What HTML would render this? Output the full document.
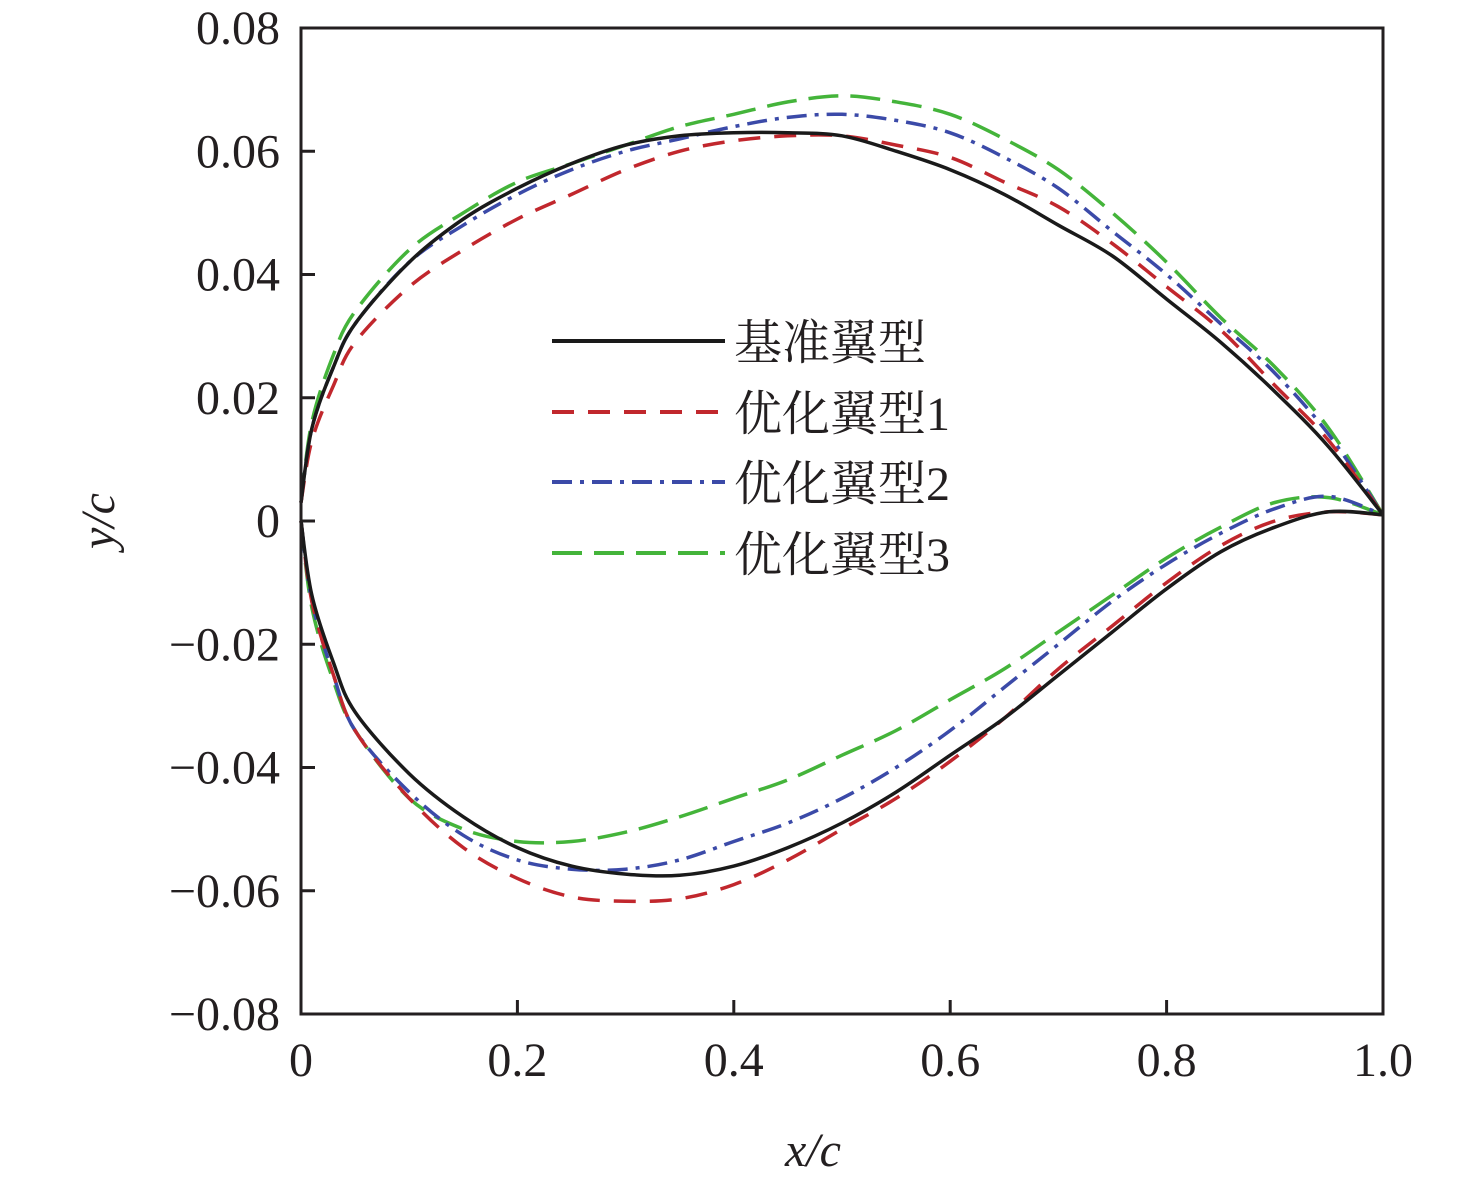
<!DOCTYPE html>
<html><head><meta charset="utf-8">
<style>
html,body{margin:0;padding:0;background:#fff;}
svg text{font-family:"Liberation Serif","Times New Roman","Noto Serif CJK SC",serif;fill:#231f20;}
</style></head>
<body>
<svg id="chart" width="1476" height="1182" viewBox="0 0 1476 1182" xmlns="http://www.w3.org/2000/svg">
<g id="plot"></g>
</svg>
<script>
const xs=[0,0.01,0.03,0.05,0.1,0.15,0.2,0.25,0.3,0.35,0.4,0.45,0.5,0.55,0.6,0.65,0.7,0.75,0.8,0.85,0.9,0.95,1.0];
const baseUpper=[0.003,0.015,0.025,0.032,0.042,0.049,0.054,0.058,0.061,0.0625,0.063,0.063,0.0625,0.06,0.057,0.053,0.048,0.043,0.036,0.029,0.021,0.012,0.001];
const baseLower=[0,-0.012,-0.023,-0.031,-0.041,-0.048,-0.053,-0.056,-0.0573,-0.0575,-0.056,-0.053,-0.049,-0.044,-0.038,-0.032,-0.025,-0.018,-0.011,-0.005,-0.001,0.0015,0.001];
const opt1Upper=[0.003,0.013,0.022,0.029,0.038,0.044,0.049,0.053,0.057,0.06,0.0617,0.0625,0.0625,0.061,0.059,0.055,0.051,0.045,0.038,0.031,0.022,0.013,0.001];
const opt1Lower=[0,-0.013,-0.025,-0.034,-0.045,-0.053,-0.058,-0.061,-0.0617,-0.0613,-0.059,-0.055,-0.05,-0.045,-0.039,-0.032,-0.024,-0.017,-0.01,-0.004,0,0.0015,0.001];
const opt2Upper=[0.003,0.015,0.025,0.032,0.042,0.048,0.053,0.057,0.06,0.062,0.064,0.0655,0.066,0.065,0.063,0.059,0.054,0.047,0.04,0.032,0.024,0.014,0.001];
const opt2Lower=[0,-0.013,-0.025,-0.034,-0.044,-0.051,-0.055,-0.0565,-0.0565,-0.055,-0.052,-0.049,-0.045,-0.04,-0.034,-0.027,-0.02,-0.013,-0.007,-0.002,0.002,0.004,0.001];
const opt3Upper=[0.003,0.016,0.027,0.034,0.044,0.05,0.055,0.058,0.061,0.064,0.066,0.068,0.069,0.068,0.066,0.062,0.057,0.05,0.042,0.033,0.025,0.015,0.001];
const opt3Lower=[0,-0.014,-0.026,-0.034,-0.045,-0.05,-0.052,-0.052,-0.0505,-0.048,-0.045,-0.042,-0.038,-0.034,-0.029,-0.024,-0.018,-0.012,-0.006,-0.001,0.003,0.0038,0.001];
const xTicks=[0,0.2,0.4,0.6,0.8,1.0];
const xTickLabels=["0","0.2","0.4","0.6","0.8","1.0"];
const yTicks=[0.08,0.06,0.04,0.02,0,-0.02,-0.04,-0.06,-0.08];
const yTickLabels=["0.08","0.06","0.04","0.02","0","\u22120.02","\u22120.04","\u22120.06","\u22120.08"];
const seriesNames=["基准翼型","优化翼型1","优化翼型2","优化翼型3"];

const X0=301,X1=1383,Y0=1014,Y1=28;
const sx=v=>X0+(v-0)/(1-0)*(X1-X0);
const sy=v=>Y0-(v+0.08)/0.16*(Y0-Y1);
const NS="http://www.w3.org/2000/svg";
const FONT='"Liberation Serif","Times New Roman","Noto Serif CJK SC",serif';
const g=document.getElementById('plot');
function mk(t,a){const e=document.createElementNS(NS,t);for(const k in a)e.setAttribute(k,a[k]);g.appendChild(e);return e;}
function smooth(pts){
  let d="M"+pts[0][0].toFixed(1)+","+pts[0][1].toFixed(1);
  for(let i=0;i<pts.length-1;i++){
    const p0=pts[Math.max(0,i-1)],p1=pts[i],p2=pts[i+1],p3=pts[Math.min(pts.length-1,i+2)];
    const c1=[p1[0]+(p2[0]-p0[0])/6,p1[1]+(p2[1]-p0[1])/6];
    const c2=[p2[0]-(p3[0]-p1[0])/6,p2[1]-(p3[1]-p1[1])/6];
    d+="C"+c1[0].toFixed(1)+","+c1[1].toFixed(1)+" "+c2[0].toFixed(1)+","+c2[1].toFixed(1)+" "+p2[0].toFixed(1)+","+p2[1].toFixed(1);
  }
  return d;
}

const styles=[
 {c:"#1a1a1a",d:"",w:3.5},
 {c:"#c1272d",d:"22 14",w:3.5},
 {c:"#3b4aa8",d:"20 8 4 8",w:3.5},
 {c:"#44b43a",d:"30 12",w:3.5}
];
const data=[[baseUpper,baseLower],[opt1Upper,opt1Lower],[opt2Upper,opt2Lower],[opt3Upper,opt3Lower]];
const keys=["baseline","optimized-1","optimized-2","optimized-3"];
[3,2,1,0].forEach(i=>{
  const [up,lo]=data[i];
  ["upper","lower"].forEach((side,j)=>{
    const ys=j?lo:up;
    const pts=xs.map((x,k)=>[sx(x),sy(ys[k])]);
    const p=mk("path",{d:smooth(pts),fill:"none",stroke:styles[i].c,"stroke-width":styles[i].w,"stroke-dasharray":styles[i].d,"stroke-linejoin":"round"});
    
    
  });
});

const fr=mk("rect",{x:X0,y:Y1,width:X1-X0,height:Y0-Y1,fill:"none",stroke:"#231f20","stroke-width":3});



xTicks.forEach((v,i)=>{
  const t=mk("line",{x1:sx(v),x2:sx(v),y1:Y0,y2:Y0-14,stroke:"#231f20","stroke-width":3});
  
  
  const l=mk("text",{x:sx(v),y:1076,"font-size":48,"text-anchor":"middle","font-family":FONT});
  l.textContent=xTickLabels[i];
  
  
});
yTicks.forEach((v,i)=>{
  const t=mk("line",{x1:X0,x2:X0+14,y1:sy(v),y2:sy(v),stroke:"#231f20","stroke-width":3});
  
  
  const l=mk("text",{x:280,y:sy(v)+16,"font-size":48,"text-anchor":"end","font-family":FONT});
  l.textContent=yTickLabels[i];
  
  
});

const xt=mk("text",{x:813,y:1166,"font-size":48,"font-style":"italic","text-anchor":"middle","font-family":FONT});
xt.textContent="x/c";


const yt=mk("text",{x:0,y:0,"font-size":48,"font-style":"italic","text-anchor":"middle","font-family":FONT,transform:"translate(114,521) rotate(-90)"});
yt.textContent="y/c";



const legY=[341,412,482,553];
seriesNames.forEach((n,i)=>{
  const ln=mk("line",{x1:552,x2:725,y1:legY[i],y2:legY[i],stroke:styles[i].c,"stroke-width":4,"stroke-dasharray":styles[i].d});
  
  
  const tx=mk("text",{x:734,y:legY[i]+18,"font-size":48,"font-family":FONT});
  tx.textContent=n;
  
  
});
</script>
</body></html>
